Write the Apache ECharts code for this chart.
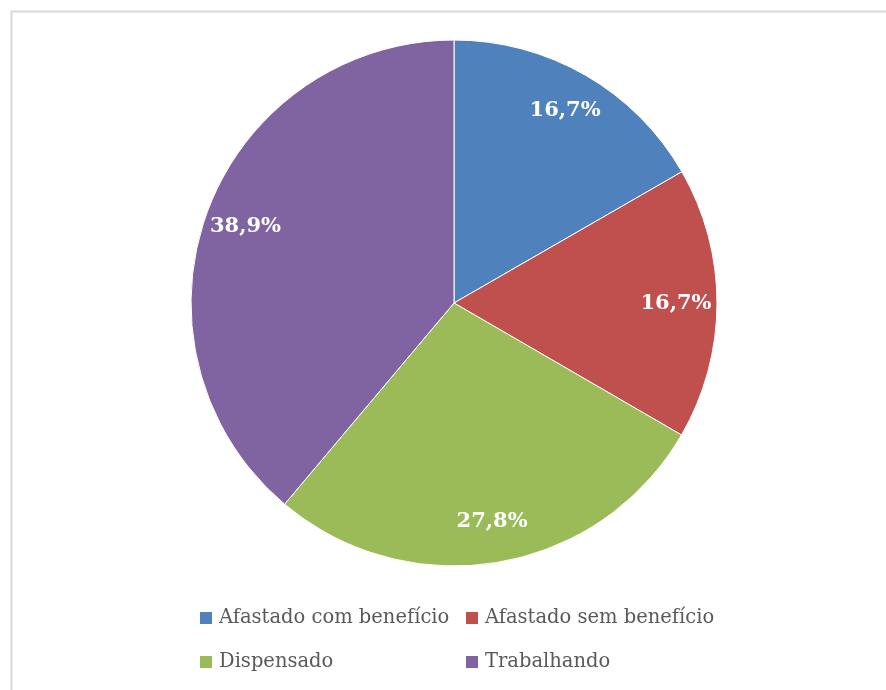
<!DOCTYPE html>
<html>
<head>
<meta charset="utf-8">
<script src="https://cdn.jsdelivr.net/npm/echarts@6/dist/echarts.min.js"></script>
<style>
  html, body { margin:0; padding:0; background:#fff; }
  #chart { width:886px; height:690px; }
</style>
</head>
<body>
<div id="chart"></div>
<script>
const categories = ["Afastado com benefício", "Afastado sem benefício", "Dispensado", "Trabalhando"];
const shares = [16.7, 16.7, 27.8, 38.9];
const colors = ["#4F81BD", "#C0504D", "#9BBB59", "#8064A2"];

function pctLabel(v){ return v.toFixed(1).replace(".", ",") + "%"; }

const data = categories.map((name, i) => ({name, value: shares[i]}));

const chart = echarts.init(document.getElementById("chart"));
const legendText = {fontFamily:"DejaVu Serif", fontSize:19.5, color:"#595959", lineHeight:22, padding:[0,0,0,1]};

chart.setOption({
  animation: false,
  color: colors,
  graphic: [{
    type: "rect", left: 9, top: 9,
    shape: {width: 900, height: 700},
    style: {fill: "none", stroke: "#d9d9d9", lineWidth: 2}
  }],
  legend: [
    {
      orient: "vertical", left: 198, top: 607, padding: 0,
      data: [categories[0], categories[2]],
      icon: "rect", itemWidth: 14, itemHeight: 14, itemGap: 22,
      textStyle: legendText, selectedMode: false
    },
    {
      orient: "vertical", left: 464, top: 607, padding: 0,
      data: [categories[1], categories[3]],
      icon: "rect", itemWidth: 14, itemHeight: 14, itemGap: 22,
      textStyle: legendText, selectedMode: false
    }
  ],
  series: [
    {
      type: "pie",
      center: [454, 303],
      radius: [0, 263],
      startAngle: 90,
      clockwise: true,
      label: {show: false},
      labelLine: {show: false},
      itemStyle: {borderColor: "#fff", borderWidth: 1},
      emphasis: {disabled: true},
      data: data
    },
    {
      type: "pie",
      center: [454, 303],
      radius: [176, 262],
      startAngle: 90,
      clockwise: true,
      silent: true,
      itemStyle: {color: "transparent"},
      label: {
        show: true, position: "inside",
        formatter: p => pctLabel(p.value),
        fontFamily: "DejaVu Serif", fontWeight: "bold", fontSize: 21, color: "#fff"
      },
      labelLine: {show: false},
      emphasis: {disabled: true},
      data: data
    }
  ]
});
</script>
</body>
</html>
